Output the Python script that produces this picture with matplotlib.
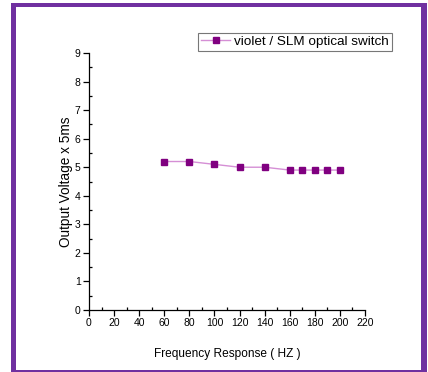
import matplotlib.pyplot as plt
from matplotlib.patches import Rectangle
from matplotlib.ticker import MultipleLocator

plt.rcParams['font.family'] = ['Liberation Sans', 'DejaVu Sans']

freq = [60, 80, 100, 120, 140, 160, 170, 180, 190, 200]
voltage = [5.2, 5.2, 5.1, 5.0, 5.0, 4.9, 4.9, 4.9, 4.9, 4.9]
series_label = 'violet / SLM optical switch'

W, H = 428, 372
fig = plt.figure(figsize=(W / 100, H / 100), dpi=100)

# purple frame around the chart
fig.patches.append(Rectangle((11 / W, 0), (427 - 11) / W, (H - 3) / H,
                             transform=fig.transFigure, facecolor='#7030a0',
                             edgecolor='none', zorder=-2))
fig.patches.append(Rectangle((16 / W, 2 / H), (421 - 16) / W, (H - 7 - 2) / H,
                             transform=fig.transFigure, facecolor='white',
                             edgecolor='none', zorder=-1))

ax = fig.add_axes([89 / W, 1 - 310 / H, (365 - 89) / W, (310 - 53) / H])
ax.patch.set_alpha(0)

ax.plot(freq, voltage, color='#d58fd5', lw=1.0, marker='s', markersize=4.2,
        markerfacecolor='#800080', markeredgecolor='#800080', label=series_label)

ax.set_xlim(0, 220)
ax.set_ylim(0, 9)
ax.xaxis.set_major_locator(MultipleLocator(20))
ax.xaxis.set_minor_locator(MultipleLocator(10))
ax.yaxis.set_major_locator(MultipleLocator(1))
ax.yaxis.set_minor_locator(MultipleLocator(0.5))

for s in ['top', 'right']:
    ax.spines[s].set_visible(False)
for s in ['left', 'bottom']:
    ax.spines[s].set_linewidth(0.9)

ax.tick_params(which='major', direction='out', length=4, width=0.9, labelsize=7.5, pad=2)
ax.tick_params(which='minor', direction='in', length=2.5, width=0.9)

ax.set_xlabel('Frequency Response ( HZ )', fontsize=8.6, labelpad=14)
ax.set_ylabel('Output Voltage x 5ms', fontsize=9.8, labelpad=1)

leg = ax.legend(loc='upper left', bbox_to_anchor=(198 / W, 1 - 33 / H),
                bbox_transform=fig.transFigure, fontsize=9.7, frameon=True,
                fancybox=False, borderpad=0.2, handlelength=2.2,
                handletextpad=0.3, borderaxespad=0)
leg.get_frame().set_edgecolor('#555555')
leg.get_frame().set_linewidth(0.8)

fig.savefig('out.png', dpi=100)
